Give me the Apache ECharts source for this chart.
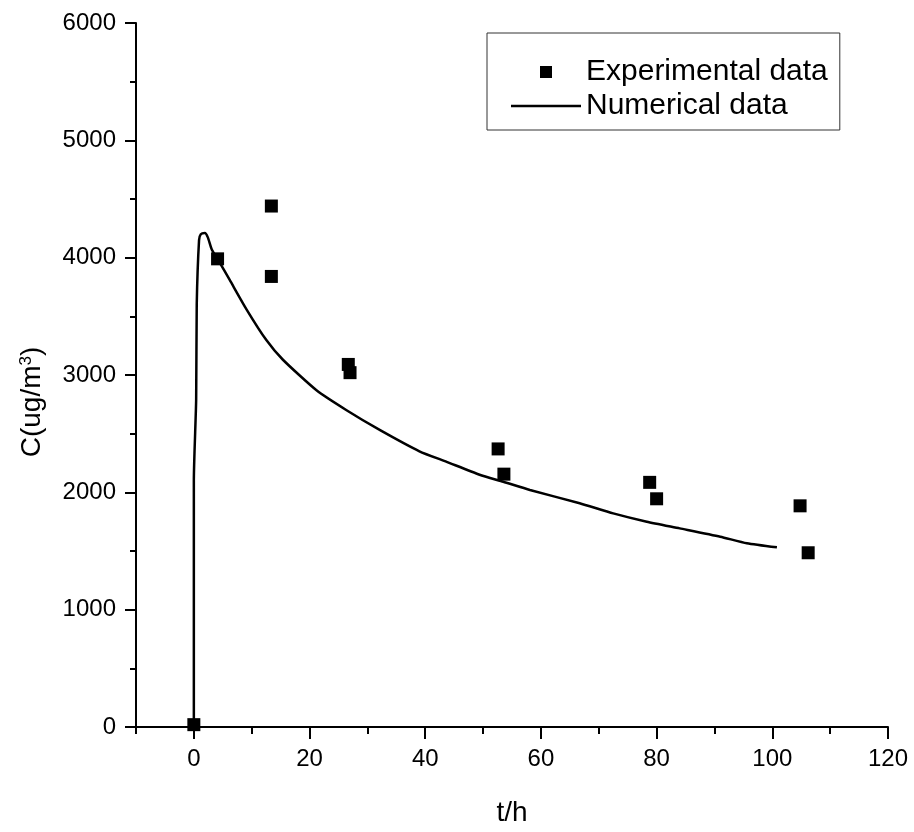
<!DOCTYPE html>
<html>
<head>
<meta charset="utf-8">
<script src="https://cdn.jsdelivr.net/npm/echarts@6/dist/echarts.min.js"></script>
<style>
  html, body { margin: 0; padding: 0; background: #fff; }
  #main { width: 914px; height: 832px; }
</style>
</head>
<body>
<div id="main"></div>
<script>
// 实验数据 (t/h, C)
let expData = [
    [0, 20], [4.1, 3990], [13.4, 4440], [13.4, 3840], [26.7, 3090], [27.0, 3020],
    [52.6, 2370], [53.6, 2155], [78.8, 2085], [80.0, 1945], [104.8, 1885], [106.2, 1485]
];
// 数值模拟曲线
let numData = [
    [0, 0], [0, 2100], [0.4, 2790], [0.5, 3600], [0.9, 4150], [1.2, 4200], [1.9, 4210],
    [2.4, 4175], [3.1, 4070], [4.1, 3990], [6.2, 3810], [9.1, 3560], [12.5, 3300],
    [15.4, 3130], [21.2, 2870], [26.4, 2700], [32.2, 2530], [39.0, 2350], [43.7, 2260],
    [49.4, 2150], [53.5, 2090], [58.1, 2020], [66.7, 1907], [72.5, 1821], [78.3, 1750],
    [84.0, 1693], [91.0, 1622], [95.6, 1566], [100.8, 1531]
];
let xMajor = [0, 20, 40, 60, 80, 100, 120];
let xMinor = [-10, 10, 30, 50, 70, 90, 110];

let font = "'Liberation Sans', Arial, sans-serif";
let myChart = echarts.init(document.getElementById('main'));

let option = {
    backgroundColor: '#fff',
    animation: false,
    grid: { left: 136, right: 26, top: 23, bottom: 105 },
    legend: {
        orient: 'vertical',
        left: 487,
        top: 33,
        padding: [24, 12, 9, 24],
        itemWidth: 70,
        itemHeight: 12,
        itemGap: 4,
        borderColor: '#333',
        borderWidth: 1,
        textStyle: { fontSize: 30, lineHeight: 30, color: '#000', fontFamily: font },
        data: [
            { name: 'Experimental data', icon: 'path://M0,0H1V1H0Z' },
            { name: 'Numerical data', icon: 'path://M0,0H70V2.5H0Z' }
        ]
    },
    xAxis: [{
        type: 'value',
        min: -10,
        max: 120,
        name: 't/h',
        nameLocation: 'middle',
        nameGap: 72,
        nameTextStyle: { fontSize: 28, color: '#000', fontFamily: font },
        axisLine: { onZero: false, lineStyle: { color: '#000', width: 2 } },
        axisTick: { customValues: xMajor, length: 12, lineStyle: { color: '#000', width: 2 } },
        axisLabel: { customValues: xMajor, fontSize: 24, color: '#000', margin: 20, fontFamily: font },
        splitLine: { show: false }
    }, {
        type: 'value',
        min: -10,
        max: 120,
        position: 'bottom',
        axisLine: { show: false, onZero: false },
        axisTick: { customValues: xMinor, length: 7, lineStyle: { color: '#000', width: 2 } },
        axisLabel: { show: false },
        splitLine: { show: false }
    }],
    yAxis: {
        type: 'value',
        min: 0,
        max: 6000,
        interval: 1000,
        name: 'C(ug/m{sup|3})',
        nameLocation: 'middle',
        nameGap: 90,
        nameRotate: 90,
        nameTextStyle: {
            fontSize: 28, color: '#000', fontFamily: font,
            padding: [0, 54, 0, 0],
            rich: { sup: { fontSize: 17, verticalAlign: 'top', color: '#000', fontFamily: font } }
        },
        axisLine: { show: true, onZero: false, lineStyle: { color: '#000', width: 2 } },
        axisTick: { show: true, length: 11, lineStyle: { color: '#000', width: 2 } },
        minorTick: { show: true, splitNumber: 2, length: 6, lineStyle: { color: '#000', width: 2 } },
        axisLabel: {
            fontSize: 24, color: '#000', margin: 20, fontFamily: font,
            formatter: function (v) { return String(v); }
        },
        splitLine: { show: false }
    },
    series: [{
        name: 'Numerical data',
        type: 'line',
        data: numData,
        symbol: 'none',
        smooth: 0.2,
        lineStyle: { color: '#000', width: 2.5 },
        itemStyle: { color: '#000' },
        z: 2
    }, {
        name: 'Experimental data',
        type: 'scatter',
        data: expData,
        symbol: 'rect',
        symbolSize: 13,
        itemStyle: { color: '#000', opacity: 1 },
        z: 3
    }]
};

myChart.setOption(option);
</script>
</body>
</html>
